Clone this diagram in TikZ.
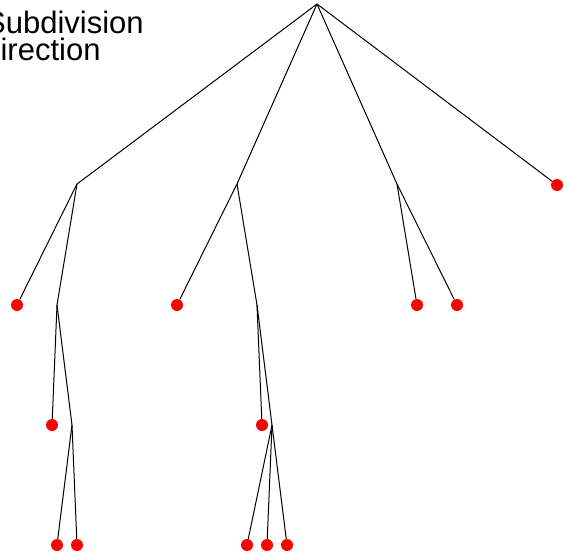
\documentclass[tikz,border=0pt]{standalone}
\usepackage{fontspec}
\setmainfont{Liberation Sans}
\begin{document}
\begin{tikzpicture}[x=1pt, y=-1pt,
  leaf/.style={circle, fill=red, inner sep=0pt, minimum size=12pt},
  branch/.style={line width=1pt}]
\useasboundingbox (0,0) rectangle (567,551);
\clip (0,0) rectangle (567,551);
\node[anchor=base west, align=left, inner sep=0pt,
  font=\fontsize{31}{27}\selectfont] (title) at (-22,60) {\hspace*{7pt}Subdivision\\Direction};
% split points
\coordinate (root) at (317,4);
\foreach \n/\x/\y in {a/77/184, b/237/184, c/397/184, a2/57/305, b2/257/305, a3/72/425, b3/272/425}{
  \coordinate (\n) at (\x,\y);
}
% leaves
\foreach \n/\x/\y in {d/557/185, a1/17/305, b1/177/305, c1/417/305, c2/457/305,
  a21/52/425, b21/262/425, a31/57/545, a32/77/545, b31/247/545, b32/267/545, b33/287/545}{
  \node[leaf] (\n) at (\x,\y) {};
}
\foreach \from/\to in {root/a, root/b, root/c, root/d, a/a1, a/a2, b/b1, b/b2, c/c1, c/c2,
  a2/a21, a2/a3, b2/b21, b2/b3, a3/a31, a3/a32, b3/b31, b3/b32, b3/b33}{
  \draw[branch] (\from) -- (\to);
}
\end{tikzpicture}
\end{document}
